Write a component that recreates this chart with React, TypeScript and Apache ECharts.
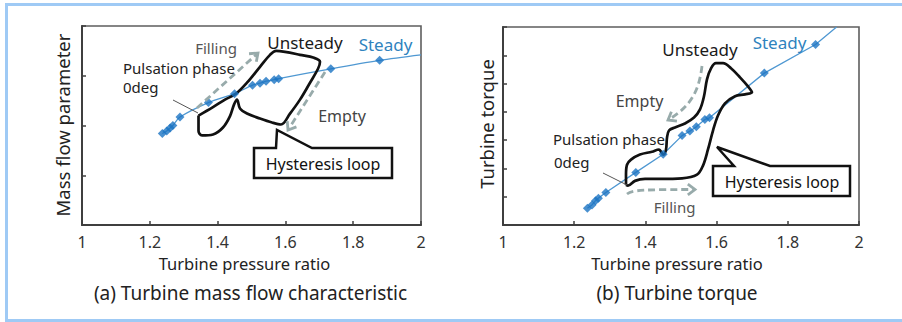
import React, { useEffect, useRef } from "react";
import * as echarts from "echarts";

// ---- data ----
const pressureRatioSteady = [1.237, 1.25, 1.26, 1.268, 1.289, 1.373, 1.45, 1.503, 1.525, 1.543, 1.567, 1.58, 1.734, 1.878];
const massFlowSteady = [1.84, 1.89, 1.95, 2.0, 2.17, 2.46, 2.64, 2.81, 2.85, 2.89, 2.92, 2.94, 3.14, 3.31];
const massFlowCurveEnd = [2.0, 3.42];
const torqueSteady = [0.59, 0.71, 0.86, 0.95, 1.15, 1.86, 2.5, 3.16, 3.32, 3.47, 3.73, 3.79, 5.37, 6.38];
const torqueLineEnd = [1.937, 7.0];

const massFlowLoop: number[][] = [
  [1.3437, 2.2], [1.3864, 2.37], [1.4218, 2.52], [1.4543, 2.64], [1.4867, 2.86], [1.5251, 3.18],
  [1.5546, 3.42], [1.5723, 3.5], [1.5988, 3.48], [1.6431, 3.42], [1.6844, 3.36], [1.7021, 3.28],
  [1.6962, 3.14], [1.6726, 2.86], [1.6431, 2.52], [1.6136, 2.24], [1.587, 2.02], [1.5605, 2.06],
  [1.5251, 2.14], [1.4867, 2.24], [1.4661, 2.34], [1.4572, 2.52], [1.4484, 2.42], [1.4366, 2.19],
  [1.4159, 1.96], [1.3864, 1.82], [1.354, 1.8], [1.3437, 1.89], [1.3437, 2.08], [1.3437, 2.2],
];

const torqueLoop: number[][] = [
  [1.3455, 1.42], [1.3455, 1.78], [1.3483, 2.13], [1.3596, 2.31], [1.3848, 2.49], [1.4185, 2.59],
  [1.4382, 2.67], [1.4438, 2.59], [1.4508, 2.49], [1.4579, 2.67], [1.4607, 3.09], [1.4663, 3.34],
  [1.4831, 3.45], [1.5112, 3.59], [1.5365, 3.8], [1.5534, 4.09], [1.5646, 4.55], [1.573, 5.15],
  [1.5843, 5.54], [1.5983, 5.72], [1.618, 5.72], [1.6404, 5.54], [1.6657, 5.22], [1.6882, 4.9],
  [1.6994, 4.69], [1.6798, 4.62], [1.6517, 4.55], [1.6236, 4.3], [1.6039, 3.87], [1.5899, 3.34],
  [1.5758, 2.67], [1.5618, 2.1], [1.5449, 1.78], [1.5028, 1.65], [1.441, 1.63], [1.3989, 1.63],
  [1.3708, 1.56], [1.3511, 1.39], [1.3455, 1.42],
];

const xTicks = { min: 1, max: 2, interval: 0.2 };
const massFlowTicks = { min: 0, max: 4, interval: 1 };
const torqueTicks = { min: 0, max: 7, interval: 1 };

// ---- styles ----
const FONT = "'Noto Sans', 'Noto Sans CJK JP', sans-serif";
const BLUE_LINE = "#4f98d2";
const BLUE_MARK = "#1b74c3";
const BLUE_TEXT = "#2f83be";
const ARROW = "#98abab";
const FRAME = "#5e5e5e";
const AXIS = "#3f3f3f";
const BORDER = "#9fcaf5";

function zip(xs: number[], ys: number[]) {
  return xs.map((x, i) => [x, ys[i]]);
}

function chevron(tx: number, ty: number, fx: number, fy: number, len = 9, ang = 0.65) {
  const dx = fx - tx, dy = fy - ty;
  const l = Math.hypot(dx, dy);
  const ux = dx / l, uy = dy / l;
  const rot = (a: number) => [tx + len * (ux * Math.cos(a) - uy * Math.sin(a)), ty + len * (ux * Math.sin(a) + uy * Math.cos(a))];
  return [rot(ang), [tx, ty], rot(-ang)];
}

function text(t: string, x: number, y: number, size: number, fill: string, align = "center", rotation = 0) {
  return {
    type: "text",
    x,
    y,
    rotation,
    z: 20,
    style: {
      text: t,
      x: 0,
      y: 0,
      fill,
      font: `${size}px ${FONT}`,
      align,
      verticalAlign: "middle",
      textAlign: align,
      textVerticalAlign: "middle",
    },
  };
}

const dashStyle = { stroke: ARROW, lineWidth: 2.8, lineDash: [7, 4], fill: null };
const headStyle = { stroke: ARROW, lineWidth: 2.8, fill: null };

function dashedArrowLine(x1: number, y1: number, x2: number, y2: number) {
  return [
    { type: "line", z: 15, shape: { x1, y1, x2, y2 }, style: dashStyle },
    { type: "polyline", z: 15, shape: { points: chevron(x2, y2, x1, y1) }, style: headStyle },
  ];
}

function dashedArrowCurve(p: number[][]) {
  const [a, c1, c2, b] = p;
  return [
    {
      type: "bezierCurve",
      z: 15,
      shape: { x1: a[0], y1: a[1], cpx1: c1[0], cpy1: c1[1], cpx2: c2[0], cpy2: c2[1], x2: b[0], y2: b[1] },
      style: dashStyle,
    },
    { type: "polyline", z: 15, shape: { points: chevron(b[0], b[1], c2[0], c2[1]) }, style: headStyle },
  ];
}

function callout(points: number[][]) {
  return { type: "polygon", z: 18, shape: { points }, style: { fill: "#fff", stroke: "#111", lineWidth: 2.5 } };
}

function leader(x1: number, y1: number, x2: number, y2: number) {
  return { type: "line", z: 15, shape: { x1, y1, x2, y2 }, style: { stroke: "#555", lineWidth: 1 } };
}

function xAxisFor(gridIndex: number) {
  return {
    gridIndex,
    type: "value",
    ...xTicks,
    axisLine: { show: true, onZero: false, lineStyle: { color: AXIS, width: 2 } },
    axisTick: { show: true, inside: true, length: 4, lineStyle: { color: AXIS, width: 1.5 } },
    axisLabel: { show: true, color: "#333", fontSize: 16, margin: 9, fontFamily: FONT },
    splitLine: { show: false },
  };
}

function yAxisFor(gridIndex: number, ticks: any) {
  return {
    gridIndex,
    type: "value",
    ...ticks,
    axisLine: { show: true, onZero: false, lineStyle: { color: AXIS, width: 2 } },
    axisTick: { show: true, inside: true, length: 4, lineStyle: { color: AXIS, width: 1.5 } },
    axisLabel: { show: false },
    splitLine: { show: false },
  };
}

export default function App() {
  const ref = useRef<HTMLDivElement>(null);
  useEffect(() => {
    if (!ref.current) return;
    const chart = echarts.init(ref.current, null, { renderer: "svg" });
    const graphic: any[] = [
      // light blue page border
      { type: "rect", z: 1, shape: { x: 5, y: 3, width: 897, height: 3 }, style: { fill: BORDER } },
      { type: "rect", z: 1, shape: { x: 5, y: 3, width: 3, height: 319 }, style: { fill: BORDER } },
      { type: "rect", z: 1, shape: { x: 5, y: 319, width: 897, height: 3 }, style: { fill: BORDER } },

      // ---- left chart annotations ----
      ...dashedArrowLine(197, 108, 258, 53),
      ...dashedArrowLine(325, 72, 288, 130),
      leader(173, 100, 198, 113),
      callout([[254, 148], [276, 148], [277, 130], [312, 148], [392, 148], [392, 178], [254, 178]]),
      text("Hysteresis loop", 323, 163.5, 16, "#111"),
      text("Filling", 216, 48, 15, "#555"),
      text("Unsteady", 305, 42, 17, "#1a1a1a"),
      text("Steady", 385.5, 44, 17, BLUE_TEXT),
      text("Pulsation phase", 123, 68, 15, "#222", "left"),
      text("0deg", 123, 87, 15, "#222", "left"),
      text("Empty", 342, 116, 16, "#444"),
      text("Mass flow parameter", 62, 125, 18.5, "#222", "center", Math.PI / 2),
      text("Turbine pressure ratio", 244.5, 263, 16.5, "#222"),
      text("(a) Turbine mass flow characteristic", 250.5, 293, 19, "#222"),

      // ---- right chart annotations ----
      ...dashedArrowCurve([[702, 66], [699, 92], [690, 107], [668, 120]]),
      ...dashedArrowCurve([[627, 194], [632, 190], [642, 189.5], [695, 189.5]]),
      leader(603, 173, 627, 185),
      callout([[713, 166], [734, 166], [717, 147], [770, 166], [850, 166], [850, 196], [713, 196]]),
      text("Hysteresis loop", 782, 181.5, 16, "#111"),
      text("Unsteady", 700, 49, 17, "#1a1a1a"),
      text("Steady", 779.5, 42, 17, BLUE_TEXT),
      text("Empty", 639.5, 101, 16, "#444"),
      text("Pulsation phase", 553, 139, 15, "#222", "left"),
      text("0deg", 554, 162, 15, "#222", "left"),
      text("Filling", 674.5, 207, 15, "#555"),
      text("Turbine torque", 486, 124, 18.5, "#222", "center", Math.PI / 2),
      text("Turbine pressure ratio", 677, 263, 16.5, "#222"),
      text("(b) Turbine torque", 677, 293, 19, "#222"),
    ];

    chart.setOption({
      animation: false,
      backgroundColor: "#fff",
      textStyle: { fontFamily: FONT },
      grid: [
        { left: 82, top: 26, width: 339, height: 199, show: true, borderColor: FRAME, borderWidth: 1.6, backgroundColor: "transparent" },
        { left: 503, top: 27, width: 356, height: 198, show: true, borderColor: FRAME, borderWidth: 1.6, backgroundColor: "transparent" },
      ],
      xAxis: [xAxisFor(0), xAxisFor(1)],
      yAxis: [yAxisFor(0, massFlowTicks), yAxisFor(1, torqueTicks)],
      series: [
        {
          name: "Steady curve (a)",
          type: "line",
          xAxisIndex: 0,
          yAxisIndex: 0,
          data: [...zip(pressureRatioSteady, massFlowSteady), massFlowCurveEnd],
          smooth: 0.3,
          showSymbol: false,
          lineStyle: { color: BLUE_LINE, width: 1.3 },
          z: 3,
        },
        {
          name: "Unsteady loop (a)",
          type: "line",
          xAxisIndex: 0,
          yAxisIndex: 0,
          data: massFlowLoop,
          smooth: 0.35,
          showSymbol: false,
          lineStyle: { color: "#111", width: 2.7 },
          z: 4,
        },
        {
          name: "Steady (a)",
          type: "scatter",
          xAxisIndex: 0,
          yAxisIndex: 0,
          data: zip(pressureRatioSteady, massFlowSteady),
          symbol: "diamond",
          symbolSize: 9,
          itemStyle: { color: BLUE_MARK },
          z: 5,
        },
        {
          name: "Steady line (b)",
          type: "line",
          xAxisIndex: 1,
          yAxisIndex: 1,
          data: [...zip(pressureRatioSteady, torqueSteady), torqueLineEnd],
          smooth: false,
          showSymbol: false,
          lineStyle: { color: BLUE_LINE, width: 1.3 },
          z: 3,
        },
        {
          name: "Unsteady loop (b)",
          type: "line",
          xAxisIndex: 1,
          yAxisIndex: 1,
          data: torqueLoop,
          smooth: 0.35,
          showSymbol: false,
          lineStyle: { color: "#111", width: 2.7 },
          z: 4,
        },
        {
          name: "Steady (b)",
          type: "scatter",
          xAxisIndex: 1,
          yAxisIndex: 1,
          data: zip(pressureRatioSteady, torqueSteady),
          symbol: "diamond",
          symbolSize: 9,
          itemStyle: { color: BLUE_MARK },
          z: 5,
        },
      ],
      graphic,
    });
    return () => chart.dispose();
  }, []);
  return (
    <div
      ref={ref}
      style={{ position: "absolute", left: 0, top: 0, width: 902, height: 322, background: "#fff" }}
    />
  );
}
